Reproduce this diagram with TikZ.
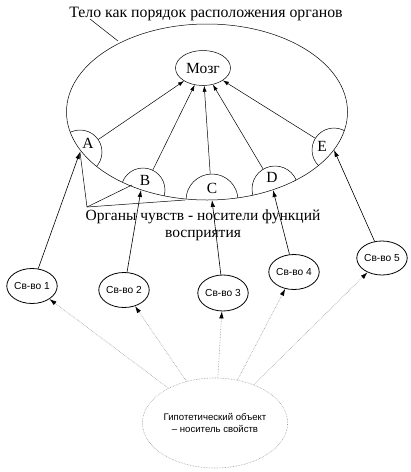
\documentclass[tikz,border=0pt]{standalone}
\usepackage{fontspec}
\setmainfont{Liberation Serif}
\newfontfamily\svfont{Liberation Sans}
\usetikzlibrary{arrows.meta,shapes.geometric}
\begin{document}
\begin{tikzpicture}[x=1pt,y=-1pt,
  serifl/.style={font=\fontsize{15.5}{17}\selectfont},
  organ/.style={circle,draw=none,inner sep=0pt},
  svnode/.style={ellipse,draw,line width=0.8pt,minimum width=50pt,minimum height=35pt,inner sep=0pt,font=\svfont\fontsize{10.2}{11}\selectfont},
  upar/.style={-{Latex[length=6pt,width=4pt]},line width=0.5pt},
  svar/.style={-{Latex[length=7pt,width=4.5pt]},line width=0.6pt},
  dotar/.style={densely dotted,gray!80,line width=0.6pt,-{Latex[length=7pt,width=4.5pt,color=black]}},
  thin line/.style={line width=0.5pt}]
\useasboundingbox (0,0) rectangle (411,472);

% title
\node[serifl,font=\fontsize{15.8}{17}\selectfont] (title) at (206,14) {Тело как порядок расположения органов};
\coordinate (tl) at (90,19);
\coordinate (te) at (118,41);
\draw[thin line] (tl) -- (te);

% body ellipse
\draw[thin line] (207,112) ellipse [x radius=140.5pt, y radius=88pt];

% organ semicircles
\begin{scope}
\clip (207,112) ellipse [x radius=140.5pt, y radius=88pt];
\draw[thin line] (80,152) circle [radius=22pt];
\draw[thin line] (143,190) circle [radius=22pt];
\draw[thin line] (212,200) circle [radius=26pt];
\draw[thin line] (275,189) circle [radius=23pt];
\draw[thin line] (334,150) circle [radius=22pt];
\end{scope}

\node[organ,minimum size=44pt] (nA) at (80,152) {};
\node[organ,minimum size=44pt] (nB) at (143,190) {};
\node[organ,minimum size=52pt] (nC) at (212,200) {};
\node[organ,minimum size=46pt] (nD) at (275,189) {};
\node[organ,minimum size=44pt] (nE) at (334,150) {};

\node[serifl] (lA) at (88,143) {A};
\node[serifl] (lB) at (145,180) {B};
\node[serifl] (lC) at (212,188) {C};
\node[serifl] (lD) at (272,177) {D};
\node[serifl] (lE) at (322,146) {E};

% brain
\node[ellipse,draw,thin line,minimum width=55pt,minimum height=35pt,inner sep=0pt,serifl] (mozg) at (203,68) {Мозг};

\draw[upar] (nA) -- (mozg);
\draw[upar] (nB) -- (mozg);
\draw[upar] (nC) -- (mozg);
\draw[upar] (nD) -- (mozg);
\draw[upar] (nE) -- (mozg);

% organs label
\node[serifl,align=center,inner sep=0pt] (orgtxt) at (203,225) {Органы чувств - носители функций\\восприятия};
\coordinate (og) at (87,207);
\coordinate (gB) at (132,185);
\coordinate (gC) at (185,200);
\draw[thin line] (og) -- (nA.center);
\draw[thin line] (og) -- (gB);
\draw[thin line] (og) -- (gC);

% properties
\node[svnode] (s1) at (32,286) {Св-во 1};
\node[svnode,minimum width=48pt] (s2) at (124,290) {Св-во 2};
\node[svnode,minimum width=48pt,minimum height=36pt] (s3) at (223,293) {Св-во 3};
\node[svnode,minimum width=48pt] (s4) at (294,272) {Св-во 4};
\node[svnode,minimum width=49pt,minimum height=34pt] (s5) at (382,258) {Св-во 5};

\draw[svar] (s1) -- (nA.center);
\draw[svar] (s2) -- (141,190) coordinate (tB);
\draw[svar] (s3) -- (nC.center);
\draw[svar] (s4) -- (273,190) coordinate (tD);
\draw[svar] (s5) -- (nE.center);

% hypothetical object
\node[ellipse,draw,densely dotted,gray!80,line width=0.6pt,minimum width=116pt,minimum height=90pt,inner sep=0pt,align=center,text=black,font=\svfont\fontsize{9.6}{12}\selectfont] (hyp) at (215,423) {Гипотетический объект\\– носитель свойств};

\draw[dotar] (hyp) -- (s1);
\draw[dotar] (hyp) -- (s2);
\draw[dotar] (hyp) -- (s3);
\draw[dotar] (hyp) -- (s4);
\draw[dotar] (hyp) -- (s5);
\end{tikzpicture}
\end{document}
